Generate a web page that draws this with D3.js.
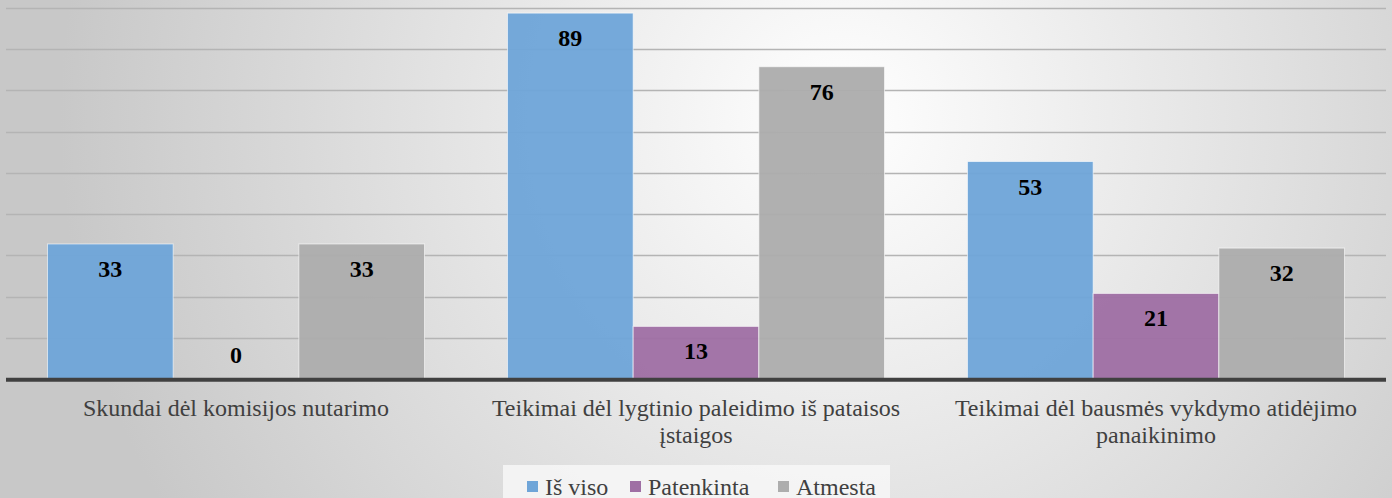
<!DOCTYPE html>
<html>
<head>
<meta charset="utf-8">
<script src="https://cdn.jsdelivr.net/npm/d3@7"></script>
<style>
	html, body { margin: 0; padding: 0; overflow: hidden; }
	svg { display: block; font-family: "Liberation Serif", "Times New Roman", serif; }
</style>
</head>
<body>
<svg id="chart" width="1392" height="498"></svg>
<script>
var categories = [
	"Skundai dėl komisijos nutarimo",
	"Teikimai dėl lygtinio paleidimo iš pataisos įstaigos",
	"Teikimai dėl bausmės vykdymo atidėjimo panaikinimo"
];
var seriesNames = ["Iš viso", "Patenkinta", "Atmesta"];
var seriesColors = ["#6fa5d8", "#9f6fa4", "#adadad"];
var isViso = [33, 89, 53];
var patenkinta = [0, 13, 21];
var atmesta = [33, 76, 32];
var yTicks = [0, 10, 20, 30, 40, 50, 60, 70, 80, 90];

var width = 1392, height = 498;
var plot = { left: 6, right: 1386, top: 8, bottom: 379 };

var svg = d3.select("#chart");

// Background gradient
var defs = svg.append("defs");
var grad = defs.append("radialGradient")
	.attr("id", "bg")
	.attr("gradientUnits", "userSpaceOnUse")
	.attr("cx", 840).attr("cy", 120).attr("r", 780);
grad.append("stop").attr("offset", "0%").attr("stop-color", "#ffffff");
grad.append("stop").attr("offset", "100%").attr("stop-color", "#c8c8c8");

svg.append("rect")
	.attr("width", width)
	.attr("height", height)
	.attr("fill", "url(#bg)");

var values = [isViso, patenkinta, atmesta];
var data = categories.map(function(c, i) {
	return {
		category: c,
		bars: seriesNames.map(function(s, j) {
			return { series: s, value: values[j][i], color: seriesColors[j] };
		})
	};
});

var x0 = d3.scaleBand()
	.domain(categories)
	.range([plot.left, plot.right])
	.padding(0);

var x1 = d3.scaleBand()
	.domain(seriesNames)
	.range([0, x0.bandwidth()])
	.paddingInner(0)
	.paddingOuter(0.33);

var y = d3.scaleLinear()
	.domain([0, 90])
	.range([plot.bottom, plot.top]);

// Gridlines
svg.append("g")
	.attr("class", "grid")
	.selectAll("line")
	.data(yTicks.slice(1))
	.enter()
	.append("line")
	.attr("x1", plot.left)
	.attr("x2", plot.right)
	.attr("y1", function(d) { return Math.round(y(d)) + 0.5; })
	.attr("y2", function(d) { return Math.round(y(d)) + 0.5; })
	.style("stroke", "#b4b4b4")
	.style("stroke-width", 1.5);

// Bars
var groups = svg.append("g")
	.attr("class", "bars")
	.selectAll("g")
	.data(data)
	.enter()
	.append("g")
	.attr("transform", function(d) { return "translate(" + x0(d.category) + ",0)"; });

groups.selectAll("rect")
	.data(function(d) { return d.bars; })
	.enter()
	.append("rect")
	.attr("x", function(d) { return x1(d.series); })
	.attr("y", function(d) { return y(d.value) + 1; })
	.attr("width", x1.bandwidth())
	.attr("height", function(d) { return y(0) - y(d.value) - 1; })
	.style("fill", function(d) { return d.color; })
	.style("fill-opacity", 0.96)
	.style("stroke", "#ffffff")
	.style("stroke-opacity", 0.6)
	.style("stroke-width", 1);

// Value labels
groups.selectAll("text")
	.data(function(d) { return d.bars; })
	.enter()
	.append("text")
	.attr("x", function(d) { return x1(d.series) + x1.bandwidth() / 2; })
	.attr("y", function(d) {
		return d.value === 0 ? y(0) - 16 : y(d.value) + 34; // zero bar: label sits above the axis
	})
	.attr("text-anchor", "middle")
	.style("font-size", "24px")
	.style("font-weight", "bold")
	.style("fill", "#000")
	.text(function(d) { return d.value; });

// Axis line
svg.append("line")
	.attr("x1", plot.left)
	.attr("x2", plot.right)
	.attr("y1", y(0) + 0.8)
	.attr("y2", y(0) + 0.8)
	.style("stroke", "#404040")
	.style("stroke-width", 4);

// Category labels
var xAxis = d3.axisBottom(x0).tickSize(0).tickPadding(0);
var axisG = svg.append("g")
	.attr("transform", "translate(0,416)")
	.call(xAxis);
axisG.attr("font-family", null).attr("font-size", null);
axisG.select(".domain").remove();
axisG.selectAll("text")
	.style("font-family", "'Liberation Serif', serif")
	.style("font-size", "24px")
	.style("fill", "#404040")
	.attr("y", 0)
	.attr("dy", 0)
	.call(wrap, 420);

function wrap(texts, maxWidth) {
	texts.each(function() {
		var text = d3.select(this);
		var words = text.text().split(/\s+/);
		var line = [];
		var tspan = text.text(null).append("tspan").attr("x", 0).attr("dy", 0);
		words.forEach(function(w) {
			line.push(w);
			tspan.text(line.join(" "));
			if (tspan.node().getComputedTextLength() > maxWidth && line.length > 1) {
				line.pop();
				tspan.text(line.join(" "));
				line = [w];
				tspan = text.append("tspan").attr("x", 0).attr("dy", 27).text(w);
			}
		});
	});
}

// Legend
var legend = svg.append("g").attr("class", "legend");
legend.append("rect")
	.attr("x", 503)
	.attr("y", 465)
	.attr("width", 387)
	.attr("height", 40)
	.style("fill", "#f7f7f7")
	.style("fill-opacity", 0.85);

var legendX = [527, 630, 778];
var items = legend.selectAll("g")
	.data(seriesNames)
	.enter()
	.append("g")
	.attr("transform", function(d, i) { return "translate(" + legendX[i] + ",0)"; });

items.append("rect")
	.attr("x", 0)
	.attr("y", 481)
	.attr("width", 11)
	.attr("height", 11)
	.style("fill", function(d, i) { return seriesColors[i]; });

items.append("text")
	.attr("x", 18)
	.attr("y", 495)
	.style("font-size", "24px")
	.style("fill", "#404040")
	.text(function(d) { return d; });
</script>
</body>
</html>
